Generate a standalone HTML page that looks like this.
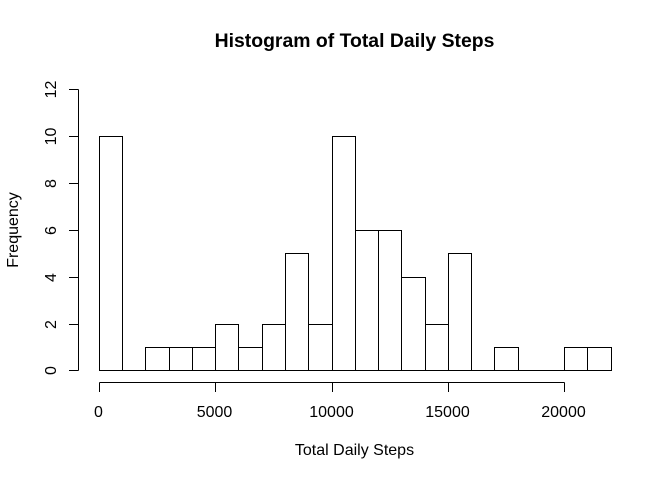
<!DOCTYPE html>
<html><head><meta charset="utf-8"><style>html,body{margin:0;padding:0;background:#fff}svg{display:block}text{font-family:"Liberation Sans",Arial,sans-serif;fill:#000}</style></head>
<body><svg id="chart" xmlns="http://www.w3.org/2000/svg" width="672" height="480" viewBox="0 0 672 480" shape-rendering="crispEdges"></svg>
<script>
const binStart = [0,1000,2000,3000,4000,5000,6000,7000,8000,9000,10000,11000,12000,13000,14000,15000,16000,17000,18000,19000,20000,21000];
const binWidth = 1000;
const frequencies = [10,0,1,1,1,2,1,2,5,2,10,6,6,4,2,5,0,1,0,0,1,1];
const xTicks = [0,5000,10000,15000,20000];
const yTicks = [0,2,4,6,8,10,12];
const titleText = 'Histogram of Total Daily Steps';
const xTitle = 'Total Daily Steps';
const yTitle = 'Frequency';

const svg = document.getElementById('chart');
const NS = 'http://www.w3.org/2000/svg';
const snap = p => Math.round(p) + 0.5;
const sx = v => snap(98.9 + v * 23.26 / 1000);
const sy = v => snap(370.4 - v * 281 / 12);
function make(tag, attrs, txt) {
  const el = document.createElementNS(NS, tag);
  for (const k in attrs) el.setAttribute(k, attrs[k]);
  if (txt !== undefined) el.textContent = txt;
  svg.appendChild(el);
  return el;
}
function line(x1, y1, x2, y2) {
  return make('line', {x1: x1, y1: y1, x2: x2, y2: y2, stroke: '#000', 'stroke-width': 1});
}
frequencies.forEach((f, i) => {
  const x0 = sx(binStart[i]);
  const x1 = sx(binStart[i] + binWidth);
  const y = sy(f);
  const y0 = sy(0);
  const d = 'M' + x0 + ' ' + y0 + 'L' + x0 + ' ' + y + 'L' + x1 + ' ' + y + 'L' + x1 + ' ' + y0 + 'Z';
  const bar = make('path', {d: d, fill: 'none', stroke: '#000', 'stroke-width': 1});
  
  
});
const yAxisLine = line(78.5, sy(yTicks[0]), 78.5, sy(yTicks[yTicks.length - 1]));


yTicks.forEach(t => {
  const y = sy(t);
  const tick = line(69, y, 78.5, y);
  
  
  const lab = make('text', {x: 56, y: y, 'font-size': 16, 'text-anchor': 'middle', transform: 'rotate(-90 56 ' + y + ')'}, t);
  
  
});
const xAxisLine = line(sx(xTicks[0]), 382.5, sx(xTicks[xTicks.length - 1]), 382.5);


xTicks.forEach(t => {
  const x = sx(t);
  const tick = line(x, 382.5, x, 392);
  
  
  const lab = make('text', {x: x - 1, y: 417, 'font-size': 16, 'text-anchor': 'middle'}, t);
  
  
});
const titleEl = make('text', {x: 354.5, y: 47, 'font-size': 19.4, 'font-weight': 'bold', 'text-anchor': 'middle'}, titleText);


const xTitleEl = make('text', {x: 354.5, y: 455, 'font-size': 16, 'text-anchor': 'middle'}, xTitle);


const yTitleEl = make('text', {x: 18, y: 230, 'font-size': 16, 'text-anchor': 'middle', transform: 'rotate(-90 18 230)'}, yTitle);


</script></body></html>
